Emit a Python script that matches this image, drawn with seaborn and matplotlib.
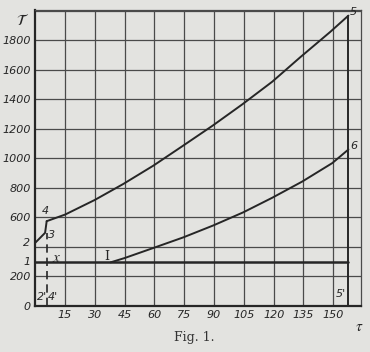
import numpy as np
import pandas as pd
import matplotlib
matplotlib.use("Agg")
import matplotlib.pyplot as plt
import seaborn as sns

# Data (tau on x, T on y)
tau_23 = [0, 5.0, 5.8]
T_23 = [425, 493, 572]

tau_45 = [5.8, 15.1, 30, 44.3, 59.4, 74, 89.1, 104.2, 119.3, 133.4, 148.5, 157.6]
T_45 = [572, 617, 716, 824, 948, 1080, 1218, 1364, 1518, 1684, 1856, 1966]

tau_I6 = [38, 45, 59.4, 74.5, 89.6, 104.7, 119.3, 134.4, 149.5, 157.6]
T_I6 = [293, 322, 390, 462, 543, 632, 731, 841, 966, 1058]

tau_1 = [0, 157.6]
T_1 = [293, 293]

tau_55 = [157.6, 157.6]
T_55 = [1966, 0]

tau_x = [5.8, 5.8]
T_x = [0, 493]

x_ticks = [15, 30, 45, 60, 75, 90, 105, 120, 135, 150]
y_ticks = [0, 200, 400, 600, 800, 1000, 1200, 1400, 1600, 1800]
y_labels = ["0", "200", "", "600", "800", "1000", "1200", "1400", "1600", "1800"]

sns.set_theme(style="white")
plt.rcParams["font.family"] = ["DejaVu Sans"]
plt.rcParams["mathtext.fontset"] = "stix"

paper = "#e3e3e0"
ink = "#262626"

fig = plt.figure(figsize=(3.7, 3.52), dpi=100, facecolor=paper)
ax = fig.add_axes([0.095, 0.132, 0.881, 0.840])
ax.set_facecolor(paper)

# Grid
for xv in x_ticks:
    ax.axvline(xv, color="#4a4a4a", lw=0.9, zorder=1)
for yv in y_ticks[1:] + [2000]:
    ax.axhline(yv, color="#4a4a4a", lw=0.9, zorder=1)

line_kw = dict(color=ink, lw=1.4, estimator=None, sort=False, zorder=3)
sns.lineplot(x=tau_23, y=T_23, ax=ax, **line_kw)
sns.lineplot(x=tau_45, y=T_45, ax=ax, **line_kw)
sns.lineplot(x=tau_I6, y=T_I6, ax=ax, **line_kw)
sns.lineplot(x=tau_1, y=T_1, ax=ax, color=ink, lw=1.8, estimator=None, sort=False, zorder=3)
sns.lineplot(x=tau_55, y=T_55, ax=ax, **line_kw)
ax.plot(tau_x, T_x, color=ink, lw=1.2, ls=(0, (5, 3)), zorder=3)

ax.set_xlim(0, 164)
ax.set_ylim(0, 2005)
ax.set_xticks(x_ticks)
ax.set_yticks(y_ticks)
ax.set_yticklabels(y_labels)
ax.tick_params(length=0, labelsize=8, colors=ink, pad=3)
for lab in ax.get_xticklabels() + ax.get_yticklabels():
    lab.set_fontstyle("italic")

for side in ["left", "bottom"]:
    ax.spines[side].set_linewidth(1.6)
    ax.spines[side].set_color(ink)
for side in ["top", "right"]:
    ax.spines[side].set_linewidth(0.9)
    ax.spines[side].set_color("#4a4a4a")

txt = dict(fontsize=8, style="italic", color=ink)
ax.text(-2.5, 293, "1", ha="right", va="center", **txt)
ax.text(-2.5, 425, "2", ha="right", va="center", **txt)
ax.text(6.5, 480, "3", ha="left", va="center", **txt)
ax.text(3.5, 640, "4", ha="left", va="center", **txt)
ax.text(158.5, 1990, "5", ha="left", va="center", **txt)
ax.text(158.5, 1080, "6", ha="left", va="center", **txt)
ax.text(11, 325, r"$x$", ha="center", va="center", fontsize=11, color=ink)
ax.text(36, 330, "I", ha="center", va="center", fontsize=9, family="DejaVu Serif", color=ink)
ax.text(5.8, 60, "2'", ha="right", va="center", **txt)
ax.text(6.2, 60, "4'", ha="left", va="center", **txt)
ax.text(156.5, 80, "5'", ha="right", va="center", **txt)
ax.text(-3, 1935, r"$\mathcal{T}$", ha="right", va="center", fontsize=11, color=ink)
ax.text(163, -90, r"$\tau$", ha="center", va="top", fontsize=11, color=ink)

fig.text(0.525, 0.04, "Fig. 1.", ha="center", va="center", fontsize=9,
         family="DejaVu Serif", color="#333333")

fig.savefig("out.png", dpi=100, facecolor=paper)
